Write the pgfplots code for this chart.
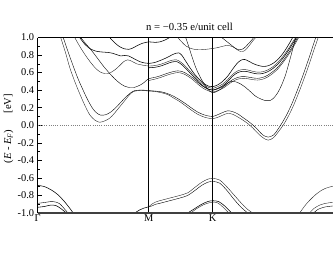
\documentclass[border=0pt]{standalone}
\usepackage{fontspec}
\setmainfont{Liberation Serif}
\usepackage{pgfplots}
\pgfplotsset{compat=1.18}
\begin{document}
\begin{tikzpicture}
\begin{axis}[
  scale only axis, width=303.5pt, height=175.5pt,
  xmin=0, xmax=303.5, ymin=-1, ymax=1,
  axis x line=box, axis y line=left,
  y axis line style={-, line width=0.9pt},
  x axis line style={-, line width=1.1pt},
  xtick={0,111,175}, xticklabels={Γ,M,K},
  x tick style={draw=none},
  xticklabel style={yshift=1.5pt},
  ytick={-1,-0.8,-0.6,-0.4,-0.2,0,0.2,0.4,0.6,0.8,1},
  yticklabels={-1.0,-0.8,-0.6,-0.4,-0.2,0.0,0.2,0.4,0.6,0.8,1.0},
  minor y tick num=1,
  tick align=inside,
  major tick length=4pt, minor tick length=2.5pt,
  y tick style={black, line width=0.6pt},
  tick label style={font=\fontsize{10.4}{12}\selectfont},
  /pgf/number format/assume math mode=true,
  ylabel={(\textit{E} - \textit{E}\textsubscript{\textit{F}})\hspace{16pt}[eV]},
  ylabel style={at={(ticklabel cs:0.48)}, yshift=-2.5pt, font=\fontsize{10.6}{12}\selectfont},
  title={n = −0.35 e/unit cell},
  title style={yshift=-3pt, font=\fontsize{10.7}{12}\selectfont},
  cycle list={{black!85, solid, line width=0.55pt}},
  every axis plot/.append style={smooth, no markers},
]
% Fermi level
\addplot[gray, line width=0.6pt, dash pattern=on 1pt off 1.2pt, sharp plot] coordinates {(0,0) (303.5,0)};
% high-symmetry lines
\addplot[black, line width=1pt, sharp plot] coordinates {(111,-1) (111,1)};
\addplot[black, line width=1pt, sharp plot] coordinates {(175,-1) (175,1)};
% conduction pair C1
\addplot coordinates {(23,1.0)(28,0.82)(32,0.66)(37,0.50)(42,0.36)(47,0.23)(52,0.12)(57,0.06)(62,0.034)(67,0.05)(72,0.08)(77,0.14)(82,0.21)(87,0.28)(92,0.35)(96,0.385)(101,0.395)(106,0.395)(111,0.39)
(117,0.385)(124,0.37)(130,0.35)(136,0.31)(142,0.27)(148,0.22)(154,0.17)(160,0.125)(166,0.095)(171,0.08)(175,0.075)
(180,0.09)(185,0.115)(190,0.135)(195,0.125)(200,0.095)(205,0.06)(210,0.02)(215,-0.03)(220,-0.09)(225,-0.14)(230.5,-0.17)(236,-0.14)(241,-0.07)(246,0.01)(251,0.11)(256,0.23)(261,0.37)(266,0.52)(271,0.68)(276,0.85)(280.5,1.0)};
% conduction pair C2
\addplot coordinates {(25.5,1.0)(30,0.85)(35,0.69)(40,0.54)(45,0.41)(50,0.29)(55,0.19)(59,0.14)(63,0.115)(68,0.12)(73,0.15)(78,0.20)(83,0.26)(88,0.32)(93,0.37)(97,0.395)(102,0.40)(106,0.40)(111,0.395)
(117,0.39)(124,0.38)(130,0.36)(136,0.33)(142,0.29)(148,0.245)(154,0.195)(160,0.15)(166,0.12)(171,0.105)(175,0.10)
(180,0.12)(185,0.145)(190,0.165)(195,0.155)(200,0.13)(205,0.09)(210,0.05)(215,0.005)(220,-0.05)(225,-0.11)(230.5,-0.135)(236,-0.11)(240,-0.05)(244,0.02)(249,0.12)(254,0.24)(259,0.38)(264,0.53)(269,0.69)(274,0.86)(278,1.0)};
% upper bands Gamma-M
\addplot coordinates {(42,1.0)(47,0.925)(52,0.875)(58,0.845)(64,0.835)(70,0.83)(75,0.82)(79,0.805)(83,0.79)(87,0.795)(91,0.79)(96,0.76)(102,0.725)(107,0.71)(111,0.705)
(117,0.715)(123,0.74)(129,0.77)(134,0.80)(138,0.82)(141,0.825)(144,0.80)(148,0.73)(152,0.66)(157,0.58)(162,0.52)(167,0.47)(171,0.445)(175,0.44)
(180,0.46)(185,0.50)(190,0.56)(195,0.64)(199,0.70)(203,0.74)(207,0.75)(211,0.73)(216,0.70)(221,0.68)(226,0.67)(231,0.68)(236,0.71)(241,0.76)(246,0.83)(251,0.92)(255,1.0)};
\addplot coordinates {(37,1.0)(42,0.90)(47,0.81)(52,0.73)(57,0.66)(62,0.61)(67,0.59)(72,0.595)(77,0.63)(82,0.68)(86,0.725)(90,0.745)(94,0.73)(99,0.70)(105,0.685)(111,0.675)
(117,0.68)(123,0.695)(129,0.72)(134,0.74)(139,0.745)(143,0.72)(147,0.68)(152,0.62)(157,0.56)(162,0.50)(167,0.455)(171,0.43)(175,0.42)
(180,0.44)(185,0.47)(190,0.52)(195,0.58)(200,0.62)(205,0.635)(210,0.63)(215,0.615)(220,0.605)(225,0.61)(230,0.63)(235,0.665)(240,0.715)(245,0.78)(250,0.86)(255,0.95)(258,1.0)};
\addplot coordinates {(43,1.0)(48,0.93)(54,0.85)(60,0.76)(66,0.67)(72,0.59)(77,0.53)(82,0.48)(87,0.445)(92,0.43)(96,0.43)(100,0.445)(105,0.475)(111,0.53)
(117,0.545)(123,0.565)(129,0.59)(135,0.61)(140,0.62)(145,0.61)(150,0.58)(155,0.54)(160,0.49)(165,0.445)(170,0.415)(175,0.40)
(180,0.415)(185,0.44)(190,0.48)(195,0.52)(200,0.545)(205,0.555)(210,0.55)(215,0.54)(220,0.535)(225,0.545)(230,0.57)(235,0.61)(240,0.66)(245,0.73)(250,0.81)(255,0.90)(260,1.0)};
% doubled companions (M to Gamma)
\addplot coordinates {(111,0.655)(117,0.66)(123,0.675)(129,0.70)(134,0.72)(139,0.725)(143,0.70)(147,0.66)(152,0.60)(157,0.54)(162,0.48)(167,0.435)(171,0.41)(175,0.40)
(180,0.42)(185,0.45)(190,0.50)(195,0.56)(200,0.60)(205,0.615)(210,0.61)(215,0.595)(220,0.585)(225,0.59)(230,0.61)(235,0.645)(240,0.695)(245,0.76)(250,0.84)(255,0.93)(259,1.0)};
\addplot coordinates {(111,0.51)(117,0.525)(123,0.545)(129,0.57)(135,0.59)(140,0.60)(145,0.59)(150,0.56)(155,0.52)(160,0.47)(165,0.425)(170,0.395)(175,0.38)
(180,0.395)(185,0.42)(190,0.46)(195,0.50)(200,0.525)(205,0.535)(210,0.53)(215,0.52)(220,0.515)(225,0.525)(230,0.55)(235,0.59)(240,0.64)(245,0.71)(250,0.79)(255,0.88)(261,1.0)};
% deep U band
\addplot coordinates {(148,1.0)(151,0.90)(154,0.79)(158,0.66)(162,0.56)(167,0.46)(171,0.40)(175,0.37)
(180,0.39)(185,0.43)(190,0.48)(194,0.50)(198,0.495)(203,0.47)(208,0.43)(213,0.38)(218,0.33)(223,0.30)(228,0.28)(232,0.28)(236,0.31)(240,0.37)(244,0.46)(248,0.58)(252,0.74)(256,0.91)(258,1.0)};
% top bands
\addplot coordinates {(72,1.0)(77,0.94)(82,0.895)(87,0.87)(91,0.865)(95,0.88)(100,0.91)(105,0.935)(111,0.95)(117,0.945)(122,0.95)(127,0.97)(132,1.0)};
\addplot coordinates {(140,1.0)(144,0.95)(148,0.905)(152,0.88)(157,0.865)(162,0.86)(168,0.865)(175,0.875)(180,0.885)(185,0.90)(190,0.91)(195,0.895)(199,0.865)(203,0.84)(207,0.85)(211,0.90)(215,0.96)(218,1.0)};
\addplot coordinates {(184,1.0)(189,0.955)(194,0.91)(198,0.875)(202,0.86)(206,0.875)(210,0.92)(214,0.97)(216,1.0)};
% valence bands
\addplot coordinates {(0,-0.685)(7,-0.70)(14,-0.74)(20,-0.79)(26,-0.86)(31,-0.93)(35.5,-1.0)};
\addplot coordinates {(262,-1.0)(267,-0.92)(272,-0.855)(278,-0.79)(284,-0.74)(290,-0.71)(295,-0.695)(303.5,-0.685)};
\addplot coordinates {(0,-0.89)(7,-0.88)(13,-0.87)(18,-0.875)(22,-0.895)(25,-0.93)(28,-0.97)(30.3,-1.0)};
\addplot coordinates {(0,-0.935)(7,-0.925)(13,-0.91)(18,-0.915)(22,-0.94)(26,-0.975)(28.7,-1.0)};
\addplot coordinates {(272,-1.0)(276,-0.95)(282,-0.91)(288,-0.89)(295,-0.88)(303.5,-0.89)};
\addplot coordinates {(276,-1.0)(280,-0.96)(286,-0.935)(291,-0.925)(295,-0.92)(303.5,-0.935)};
\addplot coordinates {(97,-1.0)(102,-0.965)(106,-0.945)(111,-0.93)};
\addplot coordinates {(111,-0.93)(114,-0.90)(118,-0.875)(122,-0.86)(132,-0.83)(142,-0.80)(150,-0.77)(157,-0.71)(164,-0.65)(170,-0.615)(175,-0.605)(182,-0.625)(189,-0.70)(196,-0.79)(203,-0.88)(209,-0.95)(215,-1.0)};
\addplot coordinates {(111,-0.93)(114,-0.92)(118,-0.90)(122,-0.89)(132,-0.86)(142,-0.83)(150,-0.80)(157,-0.745)(164,-0.685)(170,-0.65)(175,-0.64)(182,-0.66)(189,-0.74)(196,-0.84)(203,-0.93)(210,-1.0)};
\addplot coordinates {(150,-1.0)(157,-0.95)(164,-0.90)(170,-0.87)(175,-0.86)(181,-0.87)(187,-0.92)(194,-1.0)};
\addplot coordinates {(153,-1.0)(159,-0.95)(166,-0.905)(171,-0.885)(175,-0.875)(180,-0.885)(185,-0.93)(191,-1.0)};
\coordinate (sw) at (rel axis cs:0,0);
\coordinate (se) at (rel axis cs:1,0);
\end{axis}
\draw[line width=1.8pt, black!75] (sw) -- (se);
\pgfresetboundingbox
\path (sw) ++(-37.7pt,-45pt) rectangle ++(333pt,258pt);
\end{tikzpicture}
\end{document}
